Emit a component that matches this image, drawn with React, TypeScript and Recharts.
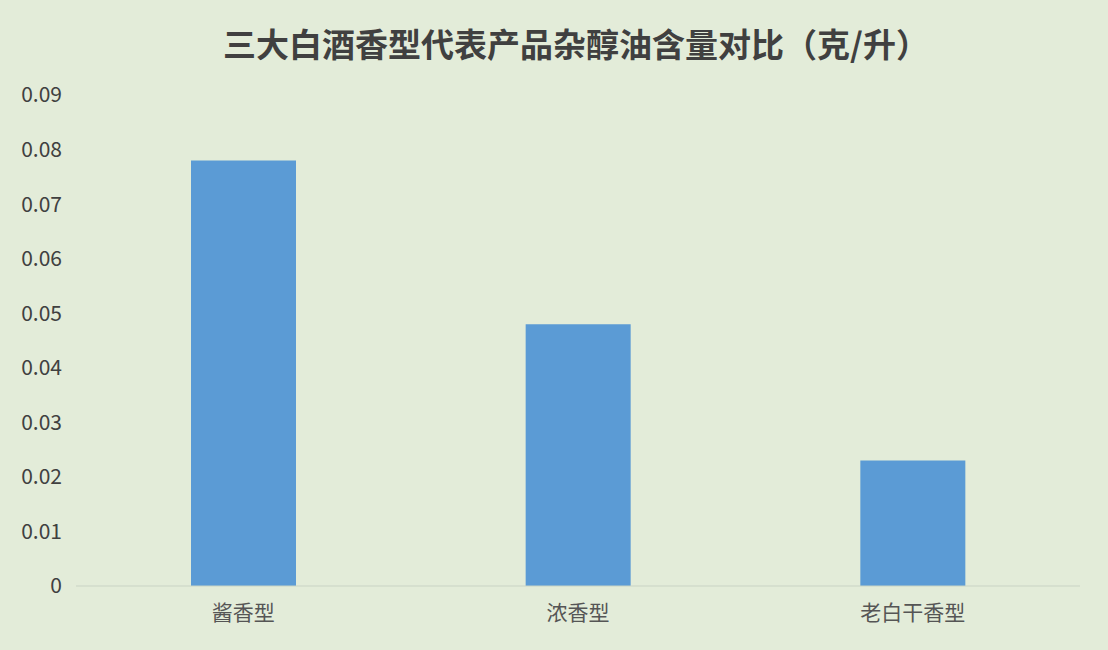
import { Bar, BarChart, CartesianGrid, XAxis, YAxis } from "recharts"

const categories = ["酱香型", "浓香型", "老白干香型"]
const fuselOil = [0.078, 0.048, 0.023]
const yTicks = [0, 0.01, 0.02, 0.03, 0.04, 0.05, 0.06, 0.07, 0.08, 0.09]
const title = "三大白酒香型代表产品杂醇油含量对比（克/升）"

const font = '"Noto Sans CJK SC", "Noto Sans", sans-serif'

export default function App() {
 const chartData = categories.map((name, i) => ({ name, value: fuselOil[i] }))

 return (
  <div style={{ position: "absolute", top: 0, left: 0, width: 1108, height: 650, background: "#e3ecd9", fontFamily: font }}>
   <div style={{ position: "absolute", top: 19, left: 0, width: 1152, textAlign: "center", fontSize: 33, fontWeight: 700, color: "#404040" }}>
    {title}
   </div>
   <BarChart width={1108} height={650} data={chartData} margin={{ top: 95, right: 28, left: 0, bottom: 0 }}>
    <CartesianGrid vertical={false} horizontal={false} />
    <XAxis
     dataKey="name"
     height={64}
     tickLine={false}
     axisLine={{ stroke: "#c9d3c4" }}
     tick={{ fill: "#555555", fontSize: 21, fontFamily: font }}
     tickMargin={13}
    />
    <YAxis
     width={76}
     domain={[0, 0.09]}
     ticks={yTicks}
     axisLine={false}
     tickLine={false}
     tickSize={0}
     tickMargin={14}
     tick={{ fill: "#404040", fontSize: 21, fontFamily: font }}
     tickFormatter={(v: number) => (v === 0 ? "0" : v.toFixed(2))}
    />
    <Bar dataKey="value" fill="#5b9bd5" barSize={105} isAnimationActive={false} />
   </BarChart>
  </div>
 )
}
